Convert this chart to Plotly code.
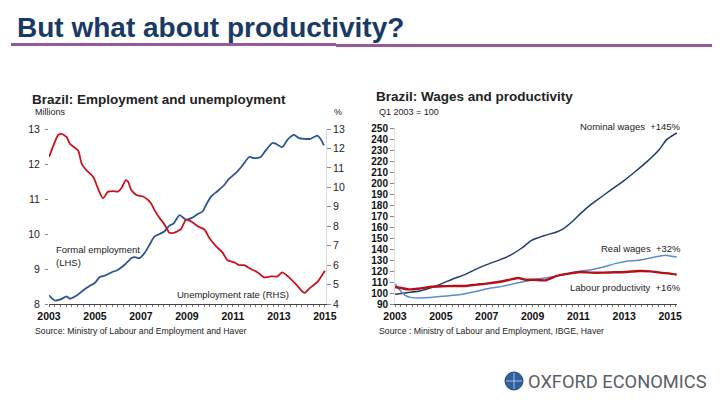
import plotly.graph_objects as go

# ---------------- data ----------------
emp_years = [2003.0, 2003.25, 2003.5, 2003.77, 2003.91, 2004.2, 2004.49, 2004.78, 2004.99, 2005.21,
             2005.43, 2005.71, 2006.0, 2006.29, 2006.58, 2006.73, 2006.94, 2007.16, 2007.38, 2007.59,
             2007.81, 2008.03, 2008.24, 2008.42, 2008.68, 2008.96, 2009.21, 2009.47, 2009.69, 2009.83,
             2010.05, 2010.34, 2010.62, 2010.84, 2011.2, 2011.42, 2011.71, 2011.92, 2012.21, 2012.43,
             2012.72, 2012.86, 2013.15, 2013.37, 2013.66, 2013.87, 2014.09, 2014.38, 2014.67, 2014.81,
             2014.96]
formal_employment = [8.25, 8.10, 8.13, 8.22, 8.15, 8.24, 8.39, 8.52, 8.60, 8.77,
                     8.81, 8.90, 8.98, 9.12, 9.31, 9.34, 9.31, 9.46, 9.70, 9.93,
                     10.00, 10.08, 10.24, 10.30, 10.54, 10.41, 10.46, 10.57, 10.65, 10.83,
                     11.07, 11.23, 11.40, 11.58, 11.79, 11.96, 12.20, 12.17, 12.20, 12.39,
                     12.60, 12.58, 12.48, 12.69, 12.83, 12.74, 12.72, 12.72, 12.81, 12.72,
                     12.53]

unemp_years = [2003.0, 2003.19, 2003.4, 2003.55, 2003.77, 2003.91, 2004.05, 2004.27, 2004.42, 2004.63,
               2004.92, 2005.14, 2005.35, 2005.57, 2005.79, 2006.0, 2006.15, 2006.34, 2006.44, 2006.58,
               2006.8, 2007.09, 2007.3, 2007.45, 2007.59, 2007.81, 2008.03, 2008.24, 2008.42, 2008.6,
               2008.75, 2008.96, 2009.18, 2009.47, 2009.76, 2009.97, 2010.26, 2010.55, 2010.77, 2011.06,
               2011.27, 2011.49, 2011.78, 2012.07, 2012.36, 2012.65, 2012.94, 2013.15, 2013.44, 2013.73,
               2014.02, 2014.13, 2014.31, 2014.45, 2014.67, 2015.0]
unemployment_rate = [11.56, 12.15, 12.69, 12.75, 12.58, 12.24, 12.10, 11.90, 11.22, 10.88,
                     10.54, 9.92, 9.44, 9.78, 9.81, 9.78, 9.95, 10.37, 10.29, 9.86,
                     9.61, 9.53, 9.36, 9.15, 8.83, 8.42, 8.08, 7.66, 7.66, 7.75,
                     7.86, 8.34, 8.25, 8.00, 7.83, 7.41, 6.98, 6.64, 6.25, 6.14,
                     6.00, 6.00, 5.80, 5.63, 5.37, 5.42, 5.42, 5.63, 5.37, 5.03,
                     4.64, 4.57, 4.78, 4.92, 5.12, 5.71]

wage_years = [2003.0, 2003.51, 2004.02, 2004.53, 2005.04, 2005.55, 2006.05, 2006.49, 2007.0, 2007.51,
              2008.02, 2008.53, 2008.96, 2009.55, 2010.05, 2010.35, 2010.71, 2011.15, 2011.58, 2011.95,
              2012.45, 2012.96, 2013.47, 2013.98, 2014.49, 2014.85, 2015.29]
nominal_wages = [98.8, 100.3, 101.5, 104.5, 108.5, 113.0, 116.7, 121.2, 125.8, 129.7,
                 134.2, 140.9, 147.9, 152.4, 155.5, 158.5, 164.5, 173.3, 181.0, 186.6,
                 194.2, 201.7, 210.2, 219.2, 229.5, 239.4, 245.5]

real_years = [2003.0, 2003.22, 2003.44, 2003.73, 2004.02, 2004.53, 2005.04, 2005.55, 2006.05, 2006.56,
              2007.0, 2007.51, 2008.02, 2008.53, 2009.04, 2009.55, 2010.05, 2010.56, 2011.07, 2011.58,
              2012.09, 2012.6, 2013.11, 2013.62, 2014.13, 2014.56, 2014.85, 2015.29]
real_wages = [108.5, 102.4, 97.9, 95.8, 95.5, 95.8, 97.0, 97.9, 99.4, 101.5,
              103.9, 105.5, 107.6, 110.0, 112.1, 113.6, 115.5, 117.6, 119.7, 121.2,
              123.6, 126.7, 128.8, 129.7, 131.8, 133.6, 134.2, 132.7]

prod_years = [2003.0, 2003.29, 2003.58, 2004.02, 2004.53, 2005.04, 2005.55, 2006.05, 2006.56, 2007.0,
              2007.51, 2008.02, 2008.38, 2008.67, 2009.04, 2009.55, 2010.05, 2010.56, 2011.07, 2011.58,
              2012.09, 2012.6, 2013.11, 2013.62, 2014.13, 2014.56, 2015.0, 2015.29]
labour_productivity = [105.5, 104.5, 103.3, 103.9, 105.5, 106.1, 106.4, 106.4, 107.6, 108.5,
                       110.0, 112.1, 113.6, 112.1, 112.1, 111.5, 115.5, 117.6, 119.1, 118.5,
                       118.5, 118.8, 119.1, 120.0, 119.7, 118.5, 117.6, 116.7]

year_ticks = [2003, 2005, 2007, 2009, 2011, 2013, 2015]
lhs_ticks = [8, 9, 10, 11, 12, 13]
rhs_ticks = [4, 5, 6, 7, 8, 9, 10, 11, 12, 13]
index_ticks = list(range(90, 251, 10))

# ---------------- figure ----------------
W, H = 720, 405
FONT = "Liberation Sans, Arial, sans-serif"
BLUE = "#2c5597"
RED = "#c8141e"
NAVY = "#1f3c6e"
LIGHTBLUE = "#5a8ccc"
DARKRED = "#b50f17"

def px(x):
    return x / W

def py(y):
    return 1 - y / H

fig = go.Figure()

fig.add_trace(go.Scatter(x=emp_years, y=formal_employment, mode="lines",
                         line=dict(color=BLUE, width=1.8, shape="spline", smoothing=0.6),
                         xaxis="x", yaxis="y", showlegend=False))
fig.add_trace(go.Scatter(x=unemp_years, y=unemployment_rate, mode="lines",
                         line=dict(color=RED, width=1.8, shape="spline", smoothing=0.6),
                         xaxis="x", yaxis="y2", showlegend=False))

fig.add_trace(go.Scatter(x=wage_years, y=nominal_wages, mode="lines",
                         line=dict(color=NAVY, width=1.5, shape="spline", smoothing=0.6),
                         xaxis="x2", yaxis="y3", showlegend=False))
fig.add_trace(go.Scatter(x=real_years, y=real_wages, mode="lines",
                         line=dict(color=LIGHTBLUE, width=1.5, shape="spline", smoothing=0.6),
                         xaxis="x2", yaxis="y3", showlegend=False))
fig.add_trace(go.Scatter(x=prod_years, y=labour_productivity, mode="lines",
                         line=dict(color=DARKRED, width=2.4, shape="spline", smoothing=0.6),
                         xaxis="x2", yaxis="y3", showlegend=False))

tickfont = dict(family=FONT, size=10.5, color="#222222")
tickfont_b = dict(family=FONT, size=10.5, color="#111111", weight="bold")
minor_x = dict(dtick=0.25, ticks="outside", ticklen=2, tickcolor="#777777", tick0=2003)

fig.update_layout(
    width=W, height=H,
    margin=dict(l=0, r=0, t=0, b=0, autoexpand=False),
    paper_bgcolor="white", plot_bgcolor="white",
    font=dict(family=FONT, color="#222222"),
    xaxis=dict(domain=[px(49), px(326)], range=[2003, 2015.05], tickvals=year_ticks,
               showline=True, linecolor="#444444", linewidth=1, ticks="outside", ticklen=2,
               tickcolor="#777777", minor=minor_x, showgrid=False,
               zeroline=False, tickfont=tickfont_b, anchor="y", automargin=False),
    yaxis=dict(domain=[py(304), py(129)], range=[8, 13], tickvals=lhs_ticks,
               showline=False, ticks="outside", ticklen=3, tickcolor="#888888",
               ticklabelstandoff=3,
               showgrid=False, zeroline=False, tickfont=tickfont, anchor="x", automargin=False),
    yaxis2=dict(range=[4, 13], tickvals=rhs_ticks, overlaying="y", side="right",
                showline=True, linecolor="#dddddd", linewidth=1,
                ticks="outside", ticklen=4, tickcolor="#888888",
                showgrid=False, zeroline=False, tickfont=tickfont, anchor="x", automargin=False),
    xaxis2=dict(domain=[px(395), px(677)], range=[2003, 2015.3], tickvals=year_ticks,
                showline=True, linecolor="#444444", linewidth=1, ticks="outside", ticklen=2,
                tickcolor="#777777", minor=minor_x, showgrid=False,
                zeroline=False, tickfont=tickfont_b, anchor="y3", automargin=False),
    yaxis3=dict(domain=[py(304), py(128)], range=[90, 250], tickvals=index_ticks,
                showline=True, linecolor="#dddddd", linewidth=1,
                ticks="outside", ticklen=4, tickcolor="#888888",
                showgrid=False, zeroline=False,
                tickfont=dict(family=FONT, size=10, color="#111111", weight="bold"),
                anchor="x2", automargin=False),
)

def text(x, y, s, size=9, bold=False, color="#222222", xanchor="left", family=FONT):
    fig.add_annotation(x=px(x), y=py(y), xref="paper", yref="paper", text=s, showarrow=False,
                       xanchor=xanchor, yanchor="middle", align="left", borderpad=0,
                       font=dict(family=family, size=size, color=color,
                                 weight="bold" if bold else "normal"))

# Main title and rule
text(16, 28, "But what about productivity?", size=28, bold=True, color="#1a3a66")
fig.add_shape(type="line", xref="paper", yref="paper", x0=px(11), x1=px(336), y0=py(44.5), y1=py(44.5),
              line=dict(color="#955a9c", width=3))
fig.add_shape(type="line", xref="paper", yref="paper", x0=px(336), x1=px(712), y0=py(45.5), y1=py(45.5),
              line=dict(color="#955a9c", width=3))

# Left chart texts
text(31, 99, "Brazil: Employment and unemployment", size=13.5, bold=True)
text(34, 112, "Millions", size=9)
text(333, 112, "%", size=9)
text(55, 249, "Formal employment", size=9.5)
text(55, 262, "(LHS)", size=9.5)
text(176, 294, "Unemployment rate (RHS)", size=9.5)
text(34, 331, "Source: Ministry of Labour and Employment and Haver", size=8.7)

# Right chart texts
text(375, 97, "Brazil: Wages and productivity", size=13.5, bold=True)
text(378, 112, "Q1 2003 = 100", size=9)
text(682, 127, "Nominal wages  +145%", size=9.5, xanchor="right")
text(682, 248, "Real wages  +32%", size=9.5, xanchor="right")
text(682, 287, "Labour productivity  +16%", size=9.5, xanchor="right")
text(378, 331, "Source : Ministry of Labour and Employment, IBGE, Haver", size=8.7)

# Logo
fig.add_shape(type="circle", xref="paper", yref="paper",
              x0=px(505), x1=px(523), y0=py(390), y1=py(372),
              fillcolor="#2f5f9e", line=dict(color="#1f4a85", width=1))
fig.add_shape(type="line", xref="paper", yref="paper", x0=px(514), x1=px(514), y0=py(389), y1=py(373),
              line=dict(color="#c9d8ee", width=0.8))
fig.add_shape(type="line", xref="paper", yref="paper", x0=px(506), x1=px(522), y0=py(381), y1=py(381),
              line=dict(color="#c9d8ee", width=0.8))
text(527, 381, "OXFORD ECONOMICS", size=18.3, color="#5a5f66", family="Roboto, Liberation Sans, sans-serif")

fig.write_html("out.html", config={"displayModeBar": False},
               post_script="document.body.style.margin='0';document.body.style.padding='0';")
